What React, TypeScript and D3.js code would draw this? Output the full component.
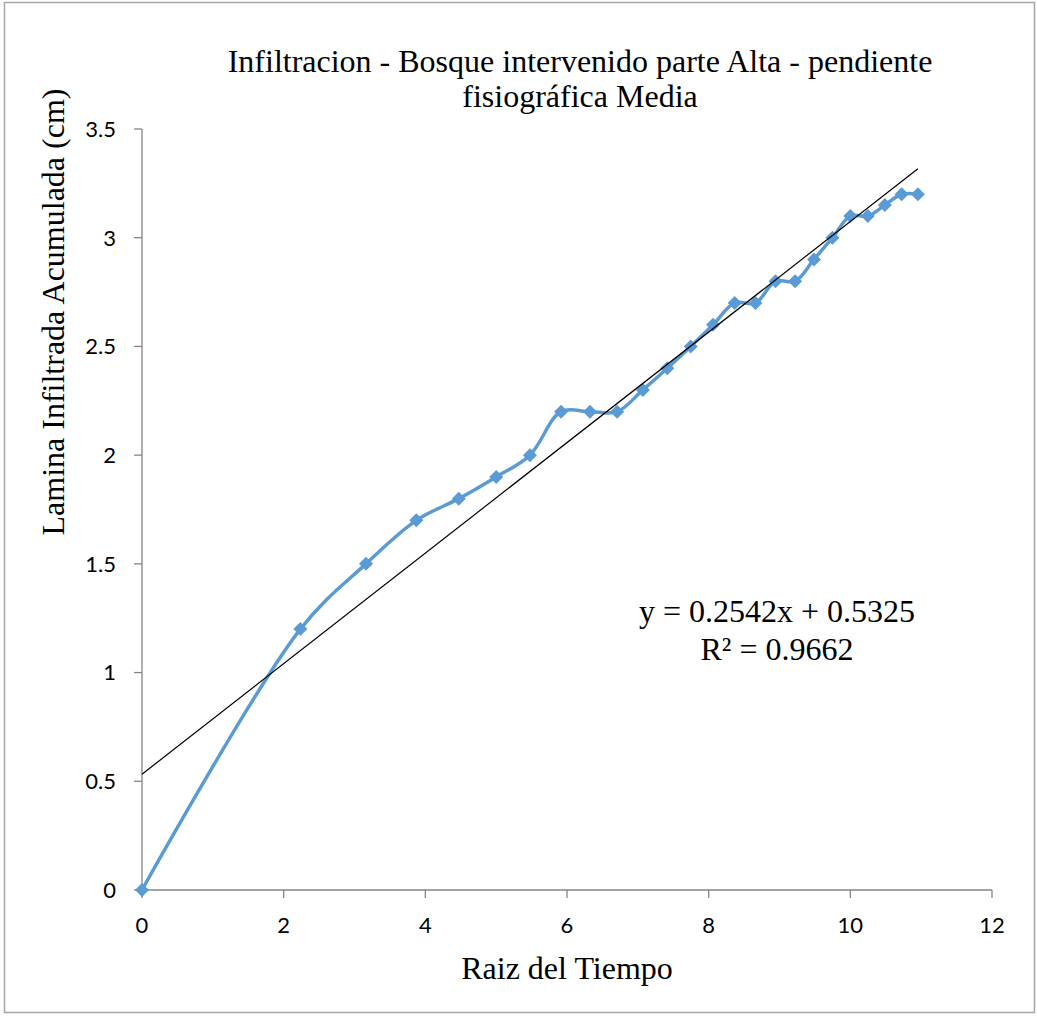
import React from "react";
import * as d3 from "d3";

const xValues = [0, 2.236, 3.162, 3.873, 4.472, 5.0, 5.477, 5.916, 6.325, 6.708, 7.071, 7.416, 7.746, 8.062, 8.367, 8.66, 8.944, 9.22, 9.487, 9.747, 10.0, 10.247, 10.488, 10.724, 10.954];
const yValues = [0, 1.2, 1.5, 1.7, 1.8, 1.9, 2.0, 2.2, 2.2, 2.2, 2.3, 2.4, 2.5, 2.6, 2.7, 2.7, 2.8, 2.8, 2.9, 3.0, 3.1, 3.1, 3.15, 3.2, 3.2];
const xTicks = [0, 2, 4, 6, 8, 10, 12];
const yTicks = [0, 0.5, 1, 1.5, 2, 2.5, 3, 3.5];
const slope = 0.2542;
const intercept = 0.5325;
const titleLines = ["Infiltracion - Bosque intervenido parte Alta - pendiente", "fisiográfica Media"];
const xTitle = "Raiz del Tiempo";
const yTitle = "Lamina Infiltrada Acumulada (cm)";
const eqLines = ["y = 0.2542x + 0.5325", "R² = 0.9662"];

export default function App() {
  const W = 1037, H = 1016;
  const left = 142, right = 992, top = 129, bottom = 890;
  const x = d3.scaleLinear().domain([0, 12]).range([left, right]);
  const y = d3.scaleLinear().domain([0, 3.5]).range([bottom, top]);
  const pts: [number, number][] = xValues.map((v, i) => [v, yValues[i]]);
  const line = d3.line<[number, number]>().x(d => x(d[0])).y(d => y(d[1])).curve(d3.curveCatmullRom.alpha(0.5));
  const xEnd = xValues[xValues.length - 1];
  const axisColor = "#868686";
  const blue = "#5B9BD5";
  const tickFont = "Lato, 'Open Sans', sans-serif";
  const serif = "'Liberation Serif', 'Times New Roman', serif";
  const diamond = d3.symbol().type(d3.symbolDiamond2).size(125)();
  return (
    <svg width={W} height={H} style={{ position: "absolute", left: 0, top: 0 }}>
      <rect x={0} y={0} width={W} height={H} fill="#fff" />
      <rect x={4.5} y={2.5} width={1030} height={1010} fill="none" stroke="#a6a6a6" strokeWidth={1.5} />
      {titleLines.map((t, i) => (
        <text key={i} x={580} y={72 + i * 35} textAnchor="middle" fontFamily={serif} fontSize={32} fill="#000">{t}</text>
      ))}
      <text transform={`translate(64,312) rotate(-90)`} textAnchor="middle" fontFamily={serif} fontSize={32} fill="#000">{yTitle}</text>
      <text x={567} y={979} textAnchor="middle" fontFamily={serif} fontSize={32} fill="#000">{xTitle}</text>
      {/* axes */}
      <line x1={left} x2={left} y1={top} y2={bottom} stroke={axisColor} strokeWidth={1.3} />
      <line x1={left} x2={right} y1={bottom} y2={bottom} stroke={axisColor} strokeWidth={1.3} />
      {yTicks.map(t => (
        <g key={"y" + t}>
          <line x1={left - 8} x2={left} y1={y(t)} y2={y(t)} stroke={axisColor} strokeWidth={1.3} />
          <text x={left - 26} y={y(t)} dy="0.36em" textAnchor="end" fontFamily={tickFont} fontSize={22} fill="#000">{t}</text>
        </g>
      ))}
      {xTicks.map(t => (
        <g key={"x" + t}>
          <line x1={x(t)} x2={x(t)} y1={bottom} y2={bottom + 8} stroke={axisColor} strokeWidth={1.3} />
          <text x={x(t)} y={bottom + 43} textAnchor="middle" fontFamily={tickFont} fontSize={22} fill="#000">{t}</text>
        </g>
      ))}
      {/* series */}
      <path d={line(pts) || ""} fill="none" stroke={blue} strokeWidth={3.5} strokeLinejoin="round" />
      {pts.map((p, i) => (
        <path key={i} d={diamond || ""} transform={`translate(${x(p[0])},${y(p[1])})`} fill={blue} />
      ))}
      {/* trendline */}
      <line x1={x(0)} y1={y(intercept)} x2={x(xEnd)} y2={y(slope * xEnd + intercept)} stroke="#000" strokeWidth={1.2} />
      {eqLines.map((t, i) => (
        <text key={i} x={777} y={622 + i * 38} textAnchor="middle" fontFamily={serif} fontSize={32} fill="#000">{t}</text>
      ))}
    </svg>
  );
}
